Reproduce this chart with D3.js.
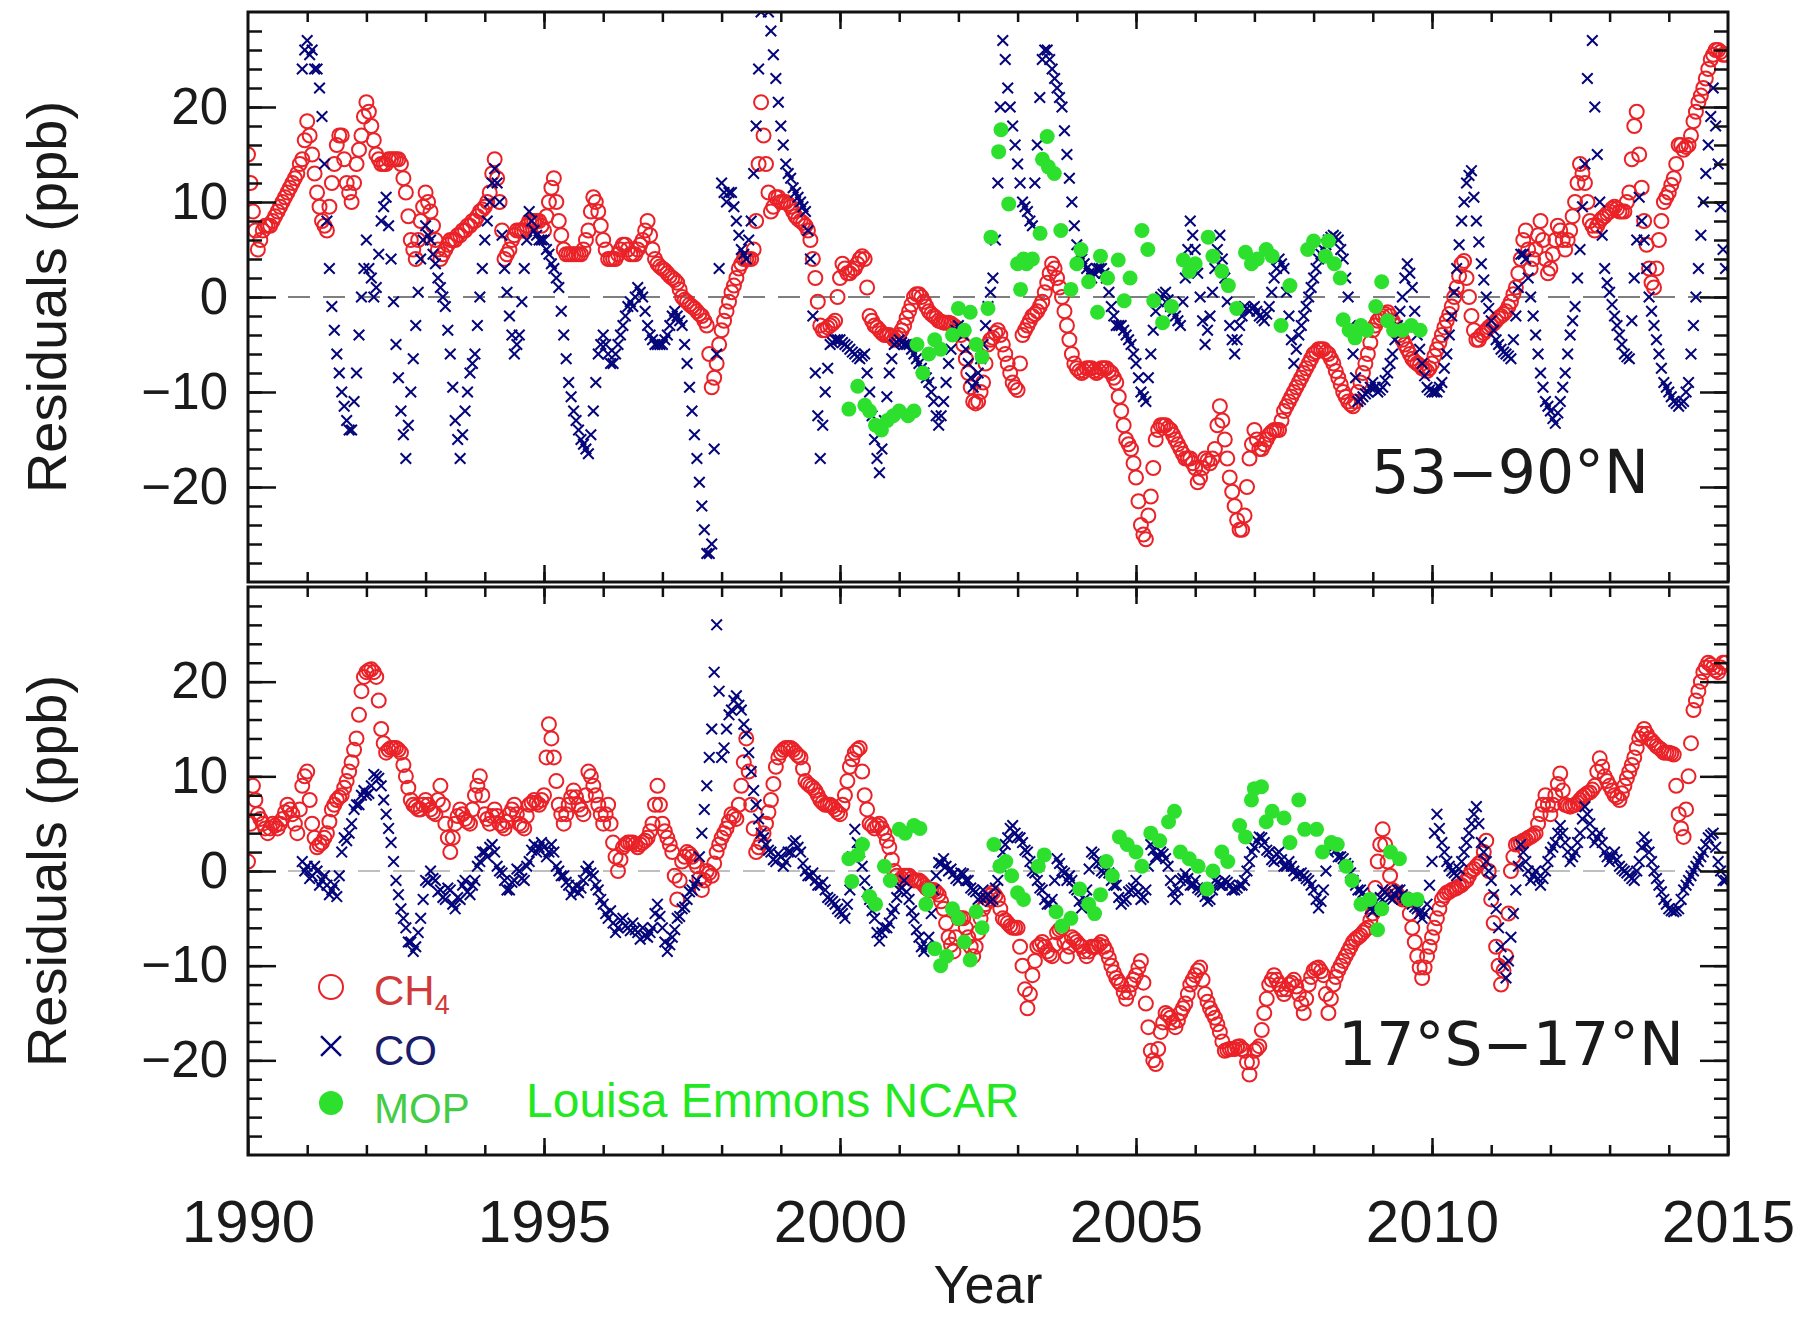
<!DOCTYPE html>
<html>
<head>
<meta charset="utf-8">
<script src="https://cdn.jsdelivr.net/npm/d3@7"></script>
<style>
  body { margin: 0; background: #fff; }
</style>
</head>
<body>
<div id="chart"></div>
<script>
// Half-monthly residuals (ppb), first value = start of 1990, one row (24 values) per year
var ch4North = [
  15, 12, 9, 7, 5, 6, 7, 7.5, 7.5, 7.5, 8, 8.5, 9, 9.5, 10, 10.5, 11, 11.5, 12, 12.5, 13, 14, 14.5, 16.5,
  18.5, 17, 15, 13, 11, 9.5, 8, 7.5, 7, 9.5, 12, 14, 16, 17, 17, 14.5, 12, 11, 10, 12, 14, 15.5, 17, 19,
  20.5, 19.5, 18, 16.5, 15, 14.5, 14, 14, 14, 14.5, 14.5, 14.5, 14.5, 14.5, 14, 12.5, 11, 8.5, 6, 5, 4, 6, 8, 9.5,
  11, 10, 9, 7.5, 6, 5, 4, 4.5, 5, 5.5, 6, 6, 6, 6.5, 6.5, 7, 7, 7.5, 7.5, 8, 8, 8.5, 9, 9.2,
  9.5, 10, 11, 13, 14.5, 12.5, 10, 7, 4, 4.5, 5, 6, 6.5, 7, 7, 7, 7, 7.5, 8, 8, 8, 8, 8, 7.5,
  7, 8.5, 10, 11.5, 12.5, 10, 8, 6.5, 5, 4.5, 4.5, 4.5, 4.5, 4.5, 4.5, 4.5, 5, 6, 7, 9, 10.5, 10, 9, 7.5,
  6, 5, 4, 4, 4, 4, 4.5, 5, 5.5, 5.5, 5, 4.5, 4.5, 4.5, 5, 5.5, 6, 7, 8, 6.5, 5, 4, 3.5, 3.2,
  3, 2.8, 2.5, 2.2, 2, 1.8, 1.5, 0.8, 0, -0.3, -0.5, -0.8, -1, -1.2, -1.5, -1.8, -2, -2.5, -3, -6, -9.5, -8.5, -7, -5,
  -3.5, -2.5, -1.5, -0.5, 0.5, 1.2, 2, 3, 3.5, 4, 4, 4, 4, 5, 8, 14, 20.5, 17, 14, 11, 9, 9.5, 10.5, 10.5,
  10, 10, 10, 9.8, 9.5, 9, 8.5, 8.2, 8, 7.8, 7.5, 7, 6, 4, 2, -0.5, -3, -3.5, -3.5, -3.2, -3, -2.8, -2.5, 0,
  2, 3.5, 3, 2.5, 2.5, 2.8, 3, 3.5, 4, 4.3, 4, 1, -2, -2.5, -3, -3.2, -3.5, -3.8, -4, -4, -4, -4.2, -4.5, -4.3,
  -4, -3.5, -3, -2.2, -1.5, -0.8, 0, 0.3, 0.3, 0, -0.5, -1, -1.5, -1.8, -2, -2.2, -2.5, -2.6, -2.7, -2.7, -2.7, -2.8, -3, -3.2,
  -3.5, -4, -5, -6.5, -8, -9.5, -11, -11.2, -11, -10, -9, -7, -5, -4.5, -4.3, -3.8, -3.5, -4, -5, -6, -7, -8, -9, -9.5,
  -9.8, -7, -4, -3.5, -3, -2.5, -2, -1.8, -1.5, -1, -0.5, 0.5, 1.5, 2.5, 3.5, 3, 2, 1, 0, -1.5, -3, -4.5, -6, -7,
  -7.5, -7.8, -8, -7.8, -7.5, -7.5, -7.5, -7.8, -8, -7.8, -7.5, -7.5, -7.5, -7.8, -8, -8.5, -9, -10.5, -12, -13.5, -15, -15.5, -16, -17.5,
  -19, -21.5, -24, -25, -25.5, -23, -21, -18, -15, -14, -13.5, -13.5, -13.5, -13.8, -14, -14.5, -15, -15.5, -16, -16.5, -17, -17, -17, -17.5,
  -18, -19.5, -19, -18, -17, -17.2, -17.5, -17, -16, -13.5, -11.5, -13, -15, -17, -19, -20.5, -22, -23.5, -24.5, -24.5, -23, -20, -17, -15.5,
  -14, -15, -16, -16, -15.5, -15, -14.5, -14.2, -14, -14, -14, -13, -12, -11.5, -11, -10.5, -10, -9.5, -9, -8.5, -8, -7.5, -7, -6.5,
  -6, -5.8, -5.5, -5.5, -5.5, -5.8, -6, -6.5, -7, -7.8, -8.5, -9.2, -10, -10.5, -11, -11.3, -11.5, -11, -10, -9, -8, -7, -6, -4.8,
  -3.5, -3, -2.5, -2.2, -2, -1.8, -1.6, -2, -2.5, -3, -3.5, -4, -4.5, -5, -5.5, -6, -6.5, -6.8, -7, -7.2, -7.5, -7.6, -7.8, -7.5,
  -7, -6.2, -5.5, -4.8, -4, -3.2, -2.5, -1.8, -1, 0, 1, 2.2, 3.5, 3.8, 2, 0, -2, -3.5, -4.5, -4.5, -4, -3.8, -3.5, -3.2,
  -3, -2.8, -2.5, -2.2, -2, -1.8, -1.5, -1, -0.5, 0.3, 1, 2.5, 4, 6, 7, 5, 3, 4, 5, 6.5, 8, 6, 4, 2.5,
  3, 4.5, 6, 7.5, 7, 6, 5, 6, 7, 8.5, 10, 12, 14, 13, 12, 10, 8, 7.5, 7, 7.5, 8, 8.3, 8.5, 8.8,
  9, 9.3, 9.5, 9.3, 9, 9, 9, 10, 11, 14.5, 18, 19.5, 15, 11.5, 8, 5.5, 3, 1.5, 1, 3, 6, 8, 10, 10.5,
  11, 11.8, 12.5, 14, 16, 16, 15.5, 15.8, 16, 17, 18.5, 19.5, 20.5, 21.2, 22, 23, 24, 25, 25.5, 26, 26, 25.8, 25.5, 25.5
];

var coNorth = [
  null, null, null, null, null, null, null, null, null, null, null, null,
  null, null, null, null, null, null, null, null, null, null, 24, 26,
  27, 25.5, 26, 24, 24, 22, 19, 14, 8, 3, -1, -3.5, -6, -8, -10, -11.5, -13, -14, -14, -11, -8, -4, 0, 3,
  6, 3, 2, 0, 1, 4.5, 8, 9.5, 10.5, 7.5, 4, -0.5, -5, -8.5, -12, -14.5, -17, -13.5, -10, -6.5, -3, 0.5, 4, 6,
  7.5, 6.5, 6, 4.5, 3.5, 2, 1, 0, -1, -3.5, -6, -9.5, -13, -15, -17, -14.5, -12, -10, -8, -7, -6, -3, 0, 3,
  6, 8, 10, 12, 13.5, 12, 10, 6.5, 3, 0.5, -2, -4, -6, -5, -4, -0.5, 3, 6, 9, 8, 7, 6.5, 6, 6,
  6, 5, 4.5, 3.5, 3, 2, 1, -1.5, -4, -6.5, -9, -10.5, -12, -13, -14, -15, -15.5, -16, -16.5, -14.5, -12, -9, -6, -5,
  -4, -5, -6, -7, -7, -6, -5, -4, -3, -2, -1, -0.5, -1, 0, 1, 0.5, 0, -1.5, -3, -4, -4.5, -5, -5, -5,
  -5, -4.5, -4, -3, -2, -1.5, -2, -2.5, -3, -5, -7, -9.5, -12, -14.5, -17, -19.5, -22, -24.5, -27, -27, -26, -16, -6, 3,
  12, 11, 10, 11, 11, 9.5, 8, 6.5, 5, 4.5, 4, 6, 8, 13, 18, 24, 30, 31, 32, 30, 28, 25.5, 23, 20.5,
  18, 16, 14, 13, 12.5, 11.5, 11, 10.5, 10, 9.5, 9, 7, 4, -2, -8, -12.5, -17, -13.5, -10, -7.5, -5, -4.8, -4.5, -4.5,
  -4.5, -4.8, -5, -5.2, -5.5, -5.8, -6, -6.3, -6.5, -6.2, -6, -8, -10, -12.5, -15, -17, -18.5, -16, -13, -10.5, -8, -6.5, -5, -4.8,
  -4.5, -4.8, -5, -5, -5, -5.5, -6, -6.5, -7, -7.5, -8, -8.5, -9, -10, -11, -12.5, -13.5, -12.5, -11, -9, -7, -5.5, -4, -3.5,
  -3, -3.5, -4, -5.5, -7, -8.5, -9.5, -9, -8, -6.5, -5, -3, -1, 0.5, 2, 6, 12, 20, 27, 25, 22, 20, 18, 16,
  14, 12, 10, 9.5, 9, 8, 7.5, 12, 16, 21, 25, 26, 26, 25, 24, 23, 22, 21, 20, 17.5, 15, 12.5, 10, 7.5,
  5.5, 4.5, 4, 3.5, 3, 2.5, 2, 2.5, 3, 3, 3, 2.5, 2, 0.5, -1, -2, -3, -3, -3, -3.5, -4, -4.5, -5, -6,
  -7, -8.5, -10, -10.5, -11, -8.5, -6, -3.5, -1.5, -0.5, 0, 0.3, 0.5, -0.3, -1, -1.5, -2, -2.5, -3, -0.5, 2, 5, 8, 6.5,
  5, 2.5, 0, -2.5, -5, -3.5, -2, 0.5, 3, 5, 6.5, 4, 2, -0.5, -3, -4.5, -6, -4.5, -3, -2, -1, -1.2, -1.5, -1.2,
  -1, -1.5, -2, -2.2, -2.5, -1.8, -1, 0.5, 2, 3, 4, 3.5, 3, 0.5, -2, -4.5, -7, -5.5, -4, -3, -2, -1, 0, 1,
  2, 3, 4, 4.5, 5, 5.5, 6, 6.3, 6.5, 6.3, 6, 5, 4, 2, 0, -3, -6, -8.5, -11, -10.8, -10.5, -10.2, -10, -9.5,
  -9, -9.5, -10, -9.8, -9.5, -8.8, -8, -7, -6, -4.5, -3, -1.5, 0, 2, 3.5, 2.5, 1, -1.5, -4, -5.5, -7, -8.3, -9.5, -9.8,
  -10, -10, -10, -9.5, -9, -7.5, -6, -4, -2, 0.5, 3, 5.5, 8, 10, 12, 12.8, 13.3, 10.5, 8, 5.8, 3.5, 1.8, 0, -1.2,
  -2.5, -3.5, -4.5, -5, -5.5, -5.8, -6, -6.2, -6.5, -4.5, -2, 1, 4.5, 4.5, 4, 2, 0, -2, -4, -6, -8, -9.5, -11, -11.5,
  -12, -12.8, -13.3, -12.2, -11, -9.5, -8, -6, -4, -2.5, -1, 2, 5, 9.5, 14, 23, 33, 27, 20, 15, 10, 6.5, 3, 1.5,
  0.5, -0.8, -2, -3, -4, -5, -6, -6.3, -6.5, -2.5, 2, 6, 10.5, 8, 6, 3, 0, -1.5, -3, -4.5, -6, -7.5, -9, -9.5,
  -10, -10.5, -11, -11.2, -11.5, -11.2, -11, -10, -9, -6, -3, 0, 3, 6.5, 10, 13, 16, 19, 22, 18, 14, 9.5, 5, 3
];

var ch4South = [
  1, 5, 9, 7.5, 6, 5.5, 5, 4.5, 4, 4.5, 5, 4.8, 4.5, 5, 5.5, 6.2, 7, 6.5, 6, 5, 4, 6.5, 9, 10,
  10.5, 7.5, 5, 3.5, 2.5, 2.8, 3, 3.5, 4, 5.2, 6.5, 7, 7.5, 7.8, 8, 8.8, 9.5, 10.5, 11.5, 12.8, 14, 16.5, 19, 20.5,
  21, 21.2, 21.3, 21, 20.5, 18, 15, 13.5, 12.5, 12.8, 13, 13, 13, 12.8, 12.5, 11.2, 10, 8.8, 7.5, 7, 6.8, 6.5, 6.5, 7,
  7.5, 7, 6.5, 6.2, 6, 7.5, 9, 7, 5, 3.5, 2, 3.5, 5, 5.8, 6.5, 6, 5.5, 5.2, 5, 6.5, 8, 9, 10, 8,
  6, 5.5, 5, 5.8, 6.5, 5.8, 5, 4.8, 4.5, 5.2, 6, 6.5, 7, 6, 5, 4.8, 4.5, 5.8, 7, 7.2, 7.5, 7.2, 7, 7.5,
  8, 12, 15.5, 14, 12, 9.5, 7, 6, 5, 6, 7, 7.8, 8.5, 7.8, 7, 6.5, 6, 8, 10.5, 10, 9, 8, 7, 6,
  5, 6, 7, 5, 3, 1.5, 0, 1.2, 2.5, 2.8, 3, 3, 3, 2.8, 2.5, 2.8, 3, 3.2, 3.5, 4.2, 5, 7, 9, 7,
  5, 4.2, 3.5, 2.8, 2, -0.5, -3, -1, 1, 1.5, 2, 1.8, 1.5, 1, 0.5, -0.8, -2, -1, 0, -0.2, -0.5, 0.8, 2, 2.8,
  3.5, 4, 4.5, 5.2, 6, 5.8, 5.5, 7, 9, 11.5, 14, 10.5, 7, 4.5, 2, 2.5, 3, 4, 5, 6.2, 7.5, 9.2, 11, 12,
  12.5, 12.8, 13, 13, 13, 12.8, 12.5, 12.2, 12, 10.8, 9.5, 9.2, 9, 8.8, 8.5, 8, 7.5, 7.2, 7, 7, 7, 6.8, 6.5, 6.2,
  6, 7, 8, 9.5, 11, 11.8, 12.5, 12.8, 13, 10.5, 8, 6.5, 5, 4.8, 4.5, 4.8, 5, 4.5, 4, 3.2, 2.5, 1.2, 0, -0.5,
  -1, -0.8, -0.5, -0.5, -0.5, -0.8, -1, -1, -1, -1.2, -1.5, -1.8, -2, -2, -2, -2.2, -2.5, -3.2, -4, -5.5, -7, -7.8, -8.5, -7,
  -5, -5, -5, -6, -7, -8, -9, -8, -6.5, -5, -4, -3.5, -3, -2.6, -2.3, -2.6, -3, -4, -5, -5.2, -5.5, -5.8, -6, -6,
  -6, -8, -10, -12.5, -14.5, -13, -11, -9.5, -8, -7.8, -7.5, -8, -8.5, -8.8, -9, -7.8, -6.5, -6.2, -6, -7.5, -9, -8, -7, -7.2,
  -7.5, -7.8, -8, -8.5, -9, -8.5, -8, -8, -8, -7.8, -7.5, -8, -8.5, -9.2, -10, -10.7, -11.3, -11.7, -12, -12.8, -13.5, -12.8, -12, -11.5,
  -11, -10.2, -9.5, -11.8, -14, -16.5, -19, -20, -20.4, -18.8, -17, -16, -15, -15.2, -15.5, -16, -16.5, -15.8, -15, -14.5, -14, -13, -12, -11.5,
  -11, -10.5, -10.2, -11.5, -13, -13.8, -14.5, -15, -15.5, -16.2, -17, -18, -19, -18.9, -18.8, -18.8, -18.8, -18.6, -18.5, -18.8, -19, -20.2, -21.5, -20.2,
  -19, -18.8, -18.5, -16.8, -15, -13.5, -12, -11.5, -11, -11.5, -12, -12.5, -13, -12.5, -12, -11.8, -11.5, -12.2, -13, -14, -15, -13.5, -12, -11.2,
  -10.5, -10.3, -10.2, -10.6, -11, -13, -15, -13.5, -12, -11.2, -10.5, -10, -9.5, -9, -8.5, -8, -7.5, -7.2, -7, -6.8, -6.5, -6.2, -6, -5.2,
  -4.5, -1.8, 1, 2.8, 4.4, 2.8, 1, -0.5, -2, -2.2, -2.5, -2.8, -3, -3, -3, -4.5, -6, -7.5, -9, -10.2, -11.3, -10.2, -9, -8,
  -7, -6, -5, -4, -3, -2.6, -2.3, -2.2, -2, -1.9, -1.8, -1.6, -1.5, -1.2, -1, -0.5, 0, 0.2, 0.5, 0.8, 1, 2, 3.2, 0,
  -3, -5.5, -8, -10, -12, -10.5, -9, -4.5, 0, 1.5, 2.8, 2.9, 3, 3.2, 3.3, 3.5, 3.6, 3.8, 4, 5, 6, 7, 8, 7,
  6, 7, 8, 9.2, 10.3, 8.5, 7, 6.9, 6.8, 6.9, 7, 7.2, 7.5, 7.8, 8, 8.2, 8.3, 8.6, 9, 10.5, 11.9, 11, 10, 9.5,
  9, 8.5, 8, 7.8, 7.5, 8.2, 9, 9.8, 10.5, 11.2, 12, 13, 14, 14.5, 15, 14.5, 14, 13.8, 13.5, 13.2, 13, 12.8, 12.5, 12.5,
  12.5, 12.4, 12.3, 9, 6, 4.5, 3.6, 6.5, 10, 13.5, 17, 18, 19, 20, 21, 21.5, 22, 21.8, 21.5, 21.2, 21, 21.5, 22, 22
];

var coSouth = [
  null, null, null, null, null, null, null, null, null, null, null, null,
  null, null, null, null, null, null, null, null, null, null, 1, 0,
  0.5, -0.8, -0.5, 0.5, 0, -1.5, -1, -0.5, -1.5, -2.5, -2, -1.5, -2.7, -0.5, 2, 3.5, 3.2, 4, 5, 6.5, 7, 7, 8, 8.5,
  8, 8.2, 9, 10.2, 10, 9.8, 9, 7.5, 6, 4.5, 3, 1, -1, -2.5, -4, -5, -6, -7.5, -7.5, -8.5, -8, -6.5, -5, -3,
  -1, -1.2, 0, -0.8, -1, -2.2, -2, -2.8, -3, -1.8, -2, -3.5, -4, -2.8, -3, -1.5, -1, -2.2, -2.5, -1.5, -1, 0.5, 1, 2,
  2, 1.5, 2.5, 2.8, 2, 0.5, 0, -0.2, -1, -2, -2, -1.2, -1, 0.2, 0, -0.8, -1, 0.5, 1, 2.2, 2.8, 2, 2.5, 3,
  2.5, 1.5, 2, 2.8, 2, 0.5, 0, -0.5, -0.5, -1.2, -1.5, -2.5, -2, -1.5, -2.3, -1.8, -1, 0, 0.5, -0.2, -0.5, -1.5, -2, -3,
  -3.5, -4.5, -5, -4.2, -5.5, -6.5, -6, -5.2, -5, -5.8, -6, -6.3, -5.5, -6.2, -6.5, -7.2, -6, -6.8, -7, -6.5, -6, -4.5, -3.5, -4.8,
  -6, -7.5, -8.5, -7.8, -7, -6.2, -5, -4.8, -4, -3.8, -3, -2.2, -2, -1.5, -1, 1.5, 4, 6.5, 9, 12, 15, 21, 26, 19,
  12, 13, 15, 16.5, 17, 18, 18.5, 17.5, 17, 15.5, 14.5, 12.5, 10.5, 8.5, 7, 5.5, 4, 3.5, 2.8, 2.2, 2, 1.2, 1, 1.8,
  1.5, 0.5, 1, 2, 2, 3, 3.2, 2.5, 2, 0.8, 0, -0.5, -0.5, -0.2, -1, -1.5, -1.5, -1.2, -2, -2.8, -3, -3.2, -3.5, -4,
  -4.3, -4.5, -5, -3.5, -2, 1.5, 4.4, 3, 2, 0.5, -1, -2.2, -3, -4.2, -5, -6.5, -7.4, -6.5, -6, -6, -5.5, -4.5, -4, -2.8,
  -2, -1.8, -1, -2.2, -3, -4.2, -5, -6.2, -7, -8, -8.5, -8, -7, -4.5, -2, -0.5, 0.9, 0.8, 1.3, 0.5, 0, 0.2, -0.3, -0.8,
  -1, -0.2, -0.3, -1, -1, -1.8, -2, -2.2, -3, -2.8, -2, -2.8, -2.5, -3.2, -3, -1.8, -1, 0.5, 2, 2.8, 3.5, 4.5, 4.8, 4,
  3.6, 3.5, 3, 2.2, 2, 1, 0, -0.2, -1, -1.8, -2, -3, -3.5, -3.5, -3, -1, 1.3, 0.8, 0, -0.2, -1, -0.5, -1, -1.8,
  -2, -3.2, -3.9, -3, -2, 0.2, 2, 1.8, 1, 0.8, 0, -0.2, 0.5, -0.2, -1, -1.5, -1.5, -2.8, -3.5, -3.2, -3, -2.2, -2, -1.8,
  -1, -2.2, -3, -2.8, -2, 0.5, 2.8, 2.2, 1.5, 1.5, 2, 1.8, 1.3, 0.5, -1, -2.2, -3, -2, -1, -0.8, -0.3, -0.8, -1.5, -1.5,
  -1, -1.8, -2, -2.2, -2.7, -3.2, -3, -2, -1, -1.2, -1.5, -1.5, -1, -1.2, -1.5, -2, -2, -1.8, -1.5, -1.5, -1, 0, 1, 2,
  2.5, 3.2, 3.6, 3.5, 3, 2.2, 2, 1.2, 1, 1.8, 2, 1.2, 0.5, 0.5, 1, 0.5, 0, -0.5, -0.3, -0.2, -0.5, -0.8, -1, -1.5,
  -2, -3, -3.9, -3.2, -2, 0, 2, 2.5, 2.8, 2.2, 1.5, 1.5, 1.3, 0.8, 0.5, -0.2, -1, -1.5, -2, -2, -2.3, -2.8, -3.5, -4,
  -4.3, -4, -3.5, -2.8, -2, -2.2, -2.5, -2.8, -3, -2.5, -2, -2, -2.5, -2.8, -3, -3.2, -3.5, -3.8, -4, -4.5, -5, -4.5, -3.5, -1.5,
  1, 4, 6, 4.5, 3, 2, 1, 0.5, 0, -0.2, -0.5, 0.2, 1, 2, 3, 4, 5, 6, 6.8, 5, 3, 2, 1, 0,
  -1, -2.5, -4, -6, -8, -10, -11.3, -9.5, -7, -4.5, -2, 0.5, 2.8, 2, 1, 0, -1, -0.5, 0, -0.8, -1.5, -0.8, 0, 1,
  2, 2.5, 3, 4, 4.8, 4, 3, 2, 1, 1.5, 2, 3, 4, 5.5, 6.8, 6, 5, 4, 3, 3.5, 4, 3, 2, 1.5,
  1, 1.5, 2, 1.2, 0.5, 0.2, 0, -0.2, -0.5, -0.8, -1, 0, 1, 2.5, 3.6, 2.8, 2, 1, 0, -0.8, -1.5, -2.2, -3, -3.5,
  -4, -4.2, -4.3, -4.2, -4, -3, -2, -1.5, -1, -0.5, 0, 0.5, 1, 1.5, 2, 2.8, 3.5, 3.8, 4, 2.5, 1, 0, -1, -1
];

// MOPITT points (irregular dates)
var mopNorthYears = [
  2000.15, 2000.3, 2000.42, 2000.5, 2000.6, 2000.7, 2000.8, 2000.9, 2001.0, 2001.15,
  2001.25, 2001.3, 2001.4, 2001.5, 2001.6, 2001.7, 2001.9, 2002.0, 2002.1, 2002.2,
  2002.3, 2002.4, 2002.5, 2002.55, 2002.68, 2002.72, 2002.85, 2003.0, 2003.05, 2003.1,
  2003.15, 2003.25, 2003.38, 2003.42, 2003.5, 2003.52, 2003.62, 2003.73, 2003.9, 2004.0,
  2004.07, 2004.2, 2004.35, 2004.4, 2004.52, 2004.7, 2004.8, 2004.9, 2005.1, 2005.2,
  2005.3, 2005.45, 2005.6, 2005.8, 2005.9, 2006.0, 2006.22, 2006.3, 2006.45, 2006.56,
  2006.7, 2006.85, 2006.95, 2007.05, 2007.2, 2007.3, 2007.45, 2007.6, 2007.9, 2008.0,
  2008.2, 2008.25, 2008.35, 2008.45, 2008.5, 2008.6, 2008.7, 2008.8, 2008.9, 2009.05,
  2009.15, 2009.25, 2009.35, 2009.5, 2009.65, 2009.8
];
var mopNorthValues = [
  -11.8, -9.4, -11.4, -12, -13.5, -14, -13, -12.5, -12, -12.5,
  -12, -5, -8, -6, -4.5, -5.5, -4, -1.2, -3.5, -1.6,
  -5, -6.3, -1.2, 6.3, 15.3, 17.6, 9.8, 3.5, 0.8, 4,
  3.5, 4, 6.7, 14.5, 16.9, 13.7, 13, 7, 0.8, 3.5,
  5, 1.6, -1.6, 4.3, 2, 3.9, -0.4, 2, 7, 5,
  -0.4, -2.7, -1, 3.9, 2.7, 3.5, 6.3, 4.3, 2.7, 1.2,
  -1.2, 4.7, 3.5, 4, 5, 4.3, -3, 1.2, 5, 5.9,
  4.3, 5.9, 3.5, 2, -2.4, -3.5, -4.3, -3, -3.5, -1,
  1.6, -2.5, -3.5, -3.5, -3, -3.5
];

var mopSouthYears = [
  2000.15, 2000.2, 2000.3, 2000.38, 2000.5, 2000.6, 2000.75, 2000.85, 2001.0, 2001.1,
  2001.25, 2001.35, 2001.45, 2001.5, 2001.6, 2001.7, 2001.8, 2001.9, 2002.0, 2002.1,
  2002.2, 2002.3, 2002.4, 2002.6, 2002.7, 2002.8, 2002.9, 2003.0, 2003.1, 2003.35,
  2003.45, 2003.65, 2003.75, 2003.9, 2004.05, 2004.2, 2004.3, 2004.4, 2004.5, 2004.6,
  2004.72, 2004.85, 2005.0, 2005.1, 2005.25, 2005.4, 2005.55, 2005.65, 2005.75, 2005.9,
  2006.05, 2006.2, 2006.3, 2006.45, 2006.55, 2006.75, 2006.85, 2006.95, 2007.0, 2007.12,
  2007.2, 2007.3, 2007.5, 2007.6, 2007.75, 2007.85, 2008.05, 2008.15, 2008.3, 2008.4,
  2008.55, 2008.65, 2008.8, 2008.95, 2009.08, 2009.15, 2009.3, 2009.45, 2009.6, 2009.75
];
var mopSouthValues = [
  1.3, -1.1, 1.7, 2.8, -2.7, -3.5, 0.5, -1, 4.4, 4,
  4.8, 4.5, -3.5, -2, -8.2, -10, -9, -4, -5, -7.5,
  -9.4, -4.3, -6, 2.8, 0.5, 1, -0.5, -2.3, -3, 0.5,
  1.7, -4.3, -5.8, -5, -1.9, -3.5, -4.5, -2.5, 1, -0.5,
  3.6, 2.8, 2, 0.5, 4, 3.2, 5.2, 6.3, 2, 1.3,
  0.5, -1.9, 0, 2, 1, 4.8, 3.6, 7.5, 8.7, 8.9,
  5.2, 6.3, 5.6, 3, 7.5, 4.4, 4.4, 2, 3, 2.8,
  0.5, -1, -3.5, -3, -6.2, -4, 2, 1.3, -3, -3
];

var yearTicks = [1990, 1995, 2000, 2005, 2010, 2015];
var valueTicks = [-20, -10, 0, 10, 20];
var regionLabels = ["53\u221290\u00B0N", "17\u00B0S\u221217\u00B0N"];

var colors = { ch4: "#ea2228", co: "#06067c", mop: "#2ee02e" };

var width = 1806, height = 1317;

var svg = d3.select("#chart")
  .append("svg")
  .attr("width", width)
  .attr("height", height)
  .style("font-family", "'Liberation Sans', Arial, sans-serif");

var x = d3.scaleLinear().domain([1990, 2015]).range([248, 1728]);

function halfMonthly(values) {
  return values
    .map(function(v, i) { return { t: 1990 + i / 24, v: v }; })
    .filter(function(d) { return d.v !== null; });
}

function paired(years, values) {
  return years.map(function(t, i) { return { t: t, v: values[i] }; });
}

var panels = [
  { id: "north", top: 12, bottom: 582, ch4: ch4North, co: coNorth,
    mop: paired(mopNorthYears, mopNorthValues), label: regionLabels[0],
    labelX: 1649, labelY: 493, zero: "#555" },
  { id: "south", top: 587, bottom: 1155, ch4: ch4South, co: coSouth,
    mop: paired(mopSouthYears, mopSouthValues), label: regionLabels[1],
    labelX: 1684, labelY: 1065, zero: "#aaa" }
];

var fmt = function(d) { return d < 0 ? "\u2212" + Math.abs(d) : String(d); };

panels.forEach(function(p, pi) {
  var y = d3.scaleLinear().domain([-30, 30]).range([p.bottom, p.top]);
  var g = svg.append("g");

  svg.append("clipPath").attr("id", "clip-" + p.id)
    .append("rect")
    .attr("x", x(1990)).attr("y", p.top)
    .attr("width", x(2015) - x(1990)).attr("height", p.bottom - p.top);

  // zero line
  g.append("line")
    .attr("x1", x(1990) + 40).attr("x2", x(2015))
    .attr("y1", y(0)).attr("y2", y(0))
    .attr("stroke", p.zero).attr("stroke-width", 1.6)
    .attr("stroke-dasharray", "22,13");

  var marks = g.append("g").attr("clip-path", "url(#clip-" + p.id + ")");

  marks.selectAll(".ch4")
    .data(halfMonthly(p.ch4))
    .enter()
    .append("circle")
    .attr("class", "ch4")
    .attr("cx", function(d) { return x(d.t); })
    .attr("cy", function(d) { return y(d.v); })
    .attr("r", 7)
    .attr("fill", "none")
    .attr("stroke", colors.ch4)
    .attr("stroke-width", 2);

  marks.selectAll(".co")
    .data(halfMonthly(p.co))
    .enter()
    .append("path")
    .attr("class", "co")
    .attr("d", d3.symbol(d3.symbolX, 75))
    .attr("transform", function(d) { return "translate(" + x(d.t) + "," + y(d.v) + ")"; })
    .attr("fill", "none")
    .attr("stroke", colors.co)
    .attr("stroke-width", 2);

  marks.selectAll(".mop")
    .data(p.mop)
    .enter()
    .append("circle")
    .attr("class", "mop")
    .attr("cx", function(d) { return x(d.t); })
    .attr("cy", function(d) { return y(d.v); })
    .attr("r", 7.5)
    .attr("fill", colors.mop);

  // axes: ticks on all four sides, pointing inward
  var left = d3.axisLeft(y).tickValues(valueTicks).tickSize(-28).tickPadding(20).tickFormat(fmt);
  var leftMinor = d3.axisLeft(y).tickValues(d3.range(-28, 29, 2)).tickSize(-14).tickFormat("");
  var right = d3.axisRight(y).tickValues(valueTicks).tickSize(-28).tickFormat("");
  var rightMinor = d3.axisRight(y).tickValues(d3.range(-28, 29, 2)).tickSize(-14).tickFormat("");
  var top = d3.axisTop(x).tickValues([1995, 2000, 2005, 2010]).tickSize(-17).tickFormat("");
  var topMinor = d3.axisTop(x).tickValues(d3.range(1991, 2015)).tickSize(-10).tickFormat("");
  var bottom = d3.axisBottom(x).tickValues(yearTicks).tickSize(-17).tickPadding(44)
    .tickFormat(pi === 1 ? d3.format("d") : "");
  var bottomMinor = d3.axisBottom(x).tickValues(d3.range(1991, 2015)).tickSize(-10).tickFormat("");

  [[left, "translate(" + x(1990) + ",0)", 51], [leftMinor, "translate(" + x(1990) + ",0)", 0],
   [right, "translate(" + x(2015) + ",0)", 0], [rightMinor, "translate(" + x(2015) + ",0)", 0],
   [top, "translate(0," + p.top + ")", 0], [topMinor, "translate(0," + p.top + ")", 0],
   [bottom, "translate(0," + p.bottom + ")", 60], [bottomMinor, "translate(0," + p.bottom + ")", 0]]
  .forEach(function(a) {
    var ax = g.append("g").attr("transform", a[1]).call(a[0]);
    ax.select(".domain").remove();
    ax.selectAll("line").attr("stroke", "#111").attr("stroke-width", 2.5);
    ax.selectAll("text")
      .attr("fill", "#1a1a1a")
      .style("font-family", "'Liberation Sans', Arial, sans-serif")
      .style("font-size", a[2] + "px");
  });

  // frame
  g.append("rect")
    .attr("x", x(1990)).attr("y", p.top)
    .attr("width", x(2015) - x(1990)).attr("height", p.bottom - p.top)
    .attr("fill", "none").attr("stroke", "#111").attr("stroke-width", 3);

  // y label
  g.append("text")
    .attr("transform", "translate(66," + ((p.top + p.bottom) / 2) + ") rotate(-90)")
    .attr("text-anchor", "middle")
    .style("font-size", "56px")
    .attr("fill", "#1a1a1a")
    .text("Residuals  (ppb)");

  // region label
  g.append("text")
    .attr("x", p.labelX).attr("y", p.labelY)
    .attr("text-anchor", "end")
    .style("font-family", "'DejaVu Sans', sans-serif")
    .style("font-size", "60px")
    .attr("fill", "#1a1a1a")
    .text(p.label);
});

svg.append("text")
  .attr("x", (x(1990) + x(2015)) / 2).attr("y", 1303)
  .attr("text-anchor", "middle")
  .style("font-size", "54px")
  .attr("fill", "#1a1a1a")
  .text("Year");

// legend
var legend = svg.append("g");
legend.append("circle").attr("cx", 331).attr("cy", 987).attr("r", 12)
  .attr("fill", "none").attr("stroke", colors.ch4).attr("stroke-width", 2);
legend.append("path").attr("d", d3.symbol(d3.symbolX, 260))
  .attr("transform", "translate(331,1046)")
  .attr("fill", "none").attr("stroke", colors.co).attr("stroke-width", 2.5);
legend.append("circle").attr("cx", 331).attr("cy", 1103).attr("r", 12)
  .attr("fill", colors.mop);

var ch4Text = legend.append("text").attr("x", 374).attr("y", 1005)
  .style("font-size", "42px").attr("fill", "#d03a3a");
ch4Text.append("tspan").text("CH");
ch4Text.append("tspan").attr("dy", 9).style("font-size", "27px").text("4");

legend.append("text").attr("x", 374).attr("y", 1065)
  .style("font-size", "42px").attr("fill", "#1c1c6c").text("CO");
legend.append("text").attr("x", 374).attr("y", 1123)
  .style("font-size", "42px").attr("fill", "#44cc44").text("MOP");

svg.append("text").attr("x", 526).attr("y", 1117)
  .style("font-size", "48px").attr("fill", "#22e822")
  .text("Louisa Emmons NCAR");
</script>
</body>
</html>
